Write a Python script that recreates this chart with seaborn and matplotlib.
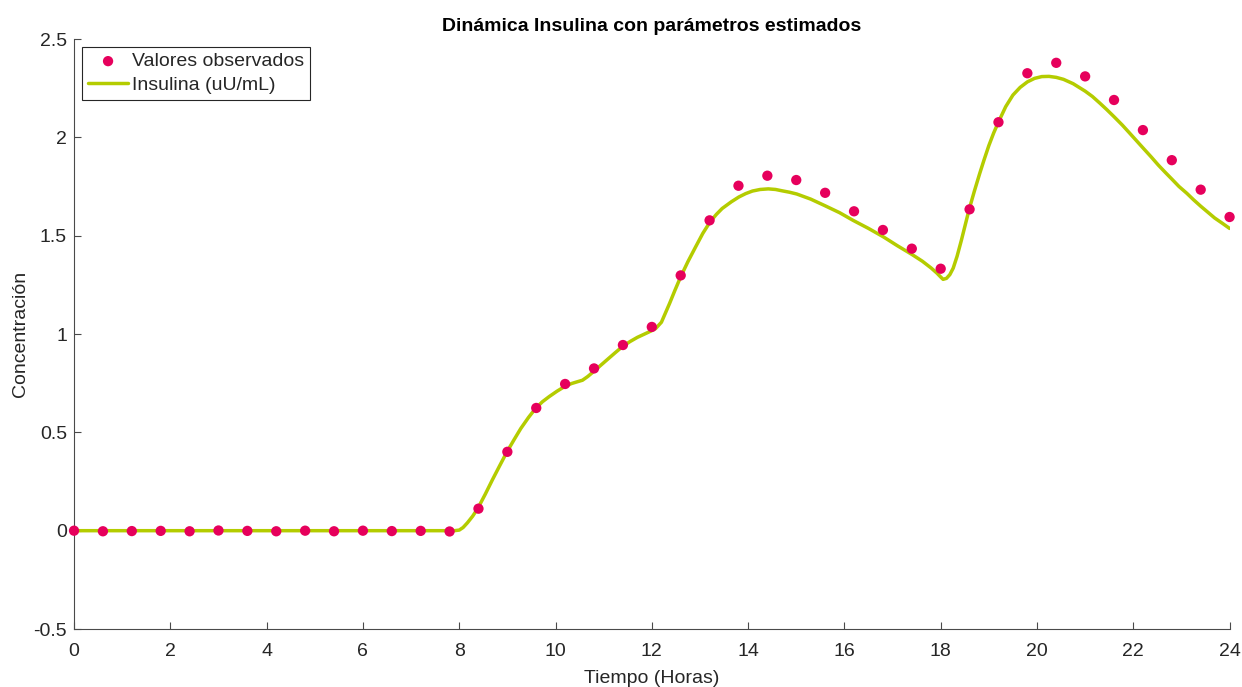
import numpy as np
import pandas as pd
import matplotlib
matplotlib.use("Agg")
import matplotlib.pyplot as plt
import seaborn as sns

# Observed values (every 0.6 h)
obs_t = [0.0, 0.6, 1.2, 1.8, 2.4, 3.0, 3.6, 4.2, 4.8, 5.4, 6.0, 6.6, 7.2, 7.8,
         8.4, 9.0, 9.6, 10.2, 10.8, 11.4, 12.0, 12.6, 13.2, 13.8, 14.4, 15.0,
         15.6, 16.2, 16.8, 17.4, 18.0, 18.6, 19.2, 19.8, 20.4, 21.0, 21.6,
         22.2, 22.8, 23.4, 24.0]
obs_v = [0.0, -0.003, -0.002, -0.001, -0.003, 0.001, -0.001, -0.003, 0.0,
         -0.003, 0.0, -0.002, -0.001, -0.004, 0.112, 0.401, 0.624, 0.746,
         0.825, 0.944, 1.036, 1.298, 1.578, 1.754, 1.805, 1.783, 1.718,
         1.624, 1.529, 1.434, 1.332, 1.634, 2.077, 2.326, 2.379, 2.310,
         2.190, 2.037, 1.884, 1.734, 1.595]

# Model curve
fit_t = [0.0, 2.0, 4.0, 6.0, 7.9, 8.0, 8.08, 8.17, 8.28, 8.39, 8.54, 8.69,
         8.84, 8.99, 9.14, 9.28, 9.44, 9.59, 9.73, 9.87, 10.03, 10.19, 10.33,
         10.45, 10.56, 10.67, 10.79, 10.93, 11.08, 11.24, 11.39, 11.55, 11.70,
         11.85, 11.98, 12.08, 12.20, 12.37, 12.48, 12.60, 12.75, 12.91, 13.06,
         13.21, 13.34, 13.46, 13.65, 13.81, 13.95, 14.09, 14.25, 14.42, 14.57,
         14.71, 14.86, 15.01, 15.30, 15.60, 15.90, 16.18, 16.50, 16.81, 17.10,
         17.40, 17.62, 17.80, 17.92, 18.00, 18.05, 18.12, 18.19, 18.26, 18.34,
         18.43, 18.51, 18.59, 18.70, 18.81, 18.90, 19.00, 19.10, 19.20, 19.35,
         19.50, 19.65, 19.80, 19.95, 20.10, 20.25, 20.40, 20.55, 20.75, 21.00,
         21.15, 21.31, 21.45, 21.60, 21.77, 21.93, 22.07, 22.21, 22.37, 22.52,
         22.66, 22.80, 22.95, 23.11, 23.25, 23.40, 23.55, 23.69, 23.85, 24.0]
fit_v = [0.0, 0.0, 0.0, 0.0, 0.0, 0.003, 0.016, 0.04, 0.074, 0.115, 0.185,
         0.259, 0.330, 0.400, 0.463, 0.520, 0.576, 0.623, 0.656, 0.682, 0.709,
         0.733, 0.748, 0.757, 0.765, 0.784, 0.809, 0.839, 0.871, 0.905, 0.936,
         0.962, 0.983, 1.000, 1.015, 1.028, 1.060, 1.156, 1.222, 1.291, 1.368,
         1.443, 1.512, 1.570, 1.608, 1.638, 1.672, 1.697, 1.714, 1.727, 1.735,
         1.738, 1.735, 1.728, 1.721, 1.712, 1.686, 1.652, 1.617, 1.578, 1.537,
         1.494, 1.449, 1.405, 1.370, 1.336, 1.310, 1.290, 1.278, 1.283, 1.302,
         1.335, 1.395, 1.477, 1.555, 1.633, 1.727, 1.816, 1.885, 1.958, 2.022,
         2.078, 2.156, 2.215, 2.254, 2.282, 2.300, 2.309, 2.310, 2.305, 2.295,
         2.273, 2.235, 2.208, 2.173, 2.141, 2.105, 2.063, 2.020, 1.982, 1.944,
         1.901, 1.859, 1.823, 1.788, 1.750, 1.716, 1.683, 1.650, 1.619, 1.590,
         1.563, 1.537]

x_ticks = list(range(0, 25, 2))
y_ticks = [-0.5, 0, 0.5, 1, 1.5, 2, 2.5]
y_tick_labels = ["-0.5", "0", "0.5", "1", "1.5", "2", "2.5"]

sns.set_style("ticks")
plt.rcParams['font.family'] = ['Liberation Sans', 'DejaVu Sans']

dot_color = "#E6005C"
line_color = "#B4CC00"
axis_color = "#262626"
spine_color = "#4a4a4a"

fig = plt.figure(figsize=(12.42, 6.87), dpi=100)
ax = fig.add_axes([0.0596, 0.0844, 0.9304, 0.8588])

obs_df = pd.DataFrame({"t": obs_t, "v": obs_v})
fit_df = pd.DataFrame({"t": fit_t, "v": fit_v})

sns.scatterplot(data=obs_df, x="t", y="v", ax=ax, color=dot_color, s=55,
                edgecolor="none", label="Valores observados", zorder=3,
                clip_on=False)
sns.lineplot(data=fit_df, x="t", y="v", ax=ax, color=line_color, linewidth=2.5,
             label="Insulina (uU/mL)", zorder=2)

ax.set_xlim(0, 24)
ax.set_ylim(-0.5, 2.5)
ax.set_xticks(x_ticks)
ax.set_xticklabels([str(v) for v in x_ticks])
ax.set_yticks(y_ticks)
ax.set_yticklabels(y_tick_labels)

for s in ["top", "right"]:
    ax.spines[s].set_visible(False)
for s in ["left", "bottom"]:
    ax.spines[s].set_color(spine_color)
    ax.spines[s].set_linewidth(0.8)

ax.tick_params(axis="both", direction="in", length=5, width=0.8,
               color=spine_color, labelcolor=axis_color, labelsize=14)
ax.tick_params(axis="x", pad=10)
ax.tick_params(axis="y", pad=5)

ax.set_xlabel("Tiempo (Horas)", fontsize=14, color=axis_color, labelpad=7)
ax.set_ylabel("Concentración", fontsize=14, color=axis_color, labelpad=3.5)
ax.set_title("Dinámica Insulina con parámetros estimados", fontsize=14,
             fontweight="bold", color="black", pad=6)

leg = ax.legend(loc="upper left", fontsize=14, frameon=True, fancybox=False,
                edgecolor=axis_color, framealpha=1, handlelength=2.1,
                handletextpad=0.2, borderpad=0.3, labelspacing=0.3,
                borderaxespad=0.4)
leg.get_frame().set_linewidth(0.8)

fig.savefig("out.png", dpi=100)
